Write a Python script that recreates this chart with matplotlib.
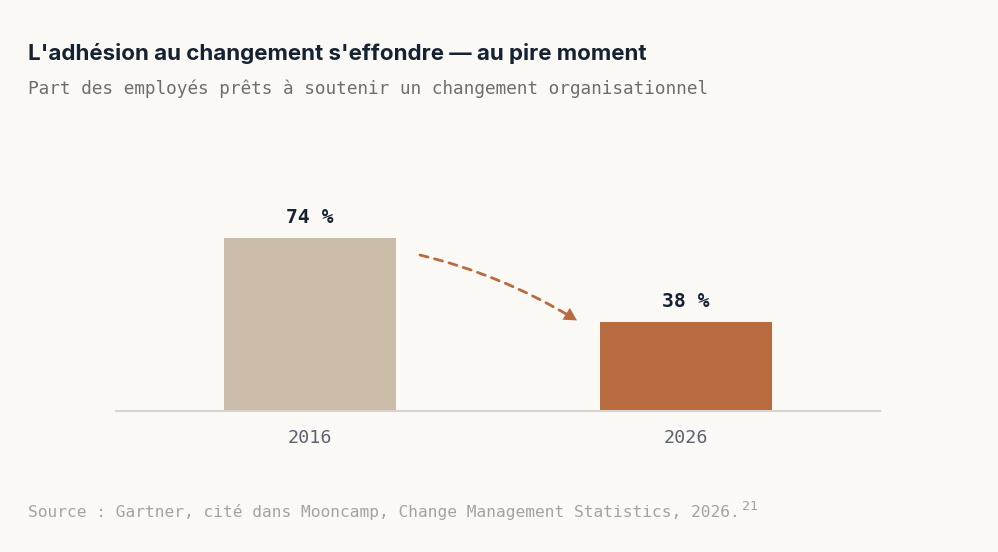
import matplotlib
matplotlib.use("Agg")
import matplotlib.pyplot as plt
from matplotlib.patches import FancyArrowPatch

# Data
categories = ["2016", "2026"]
values = [74, 38]
value_labels = ["74 %", "38 %"]
bar_colors = ["#cbbba9", "#b86b3e"]

title = "L'adhésion au changement s'effondre — au pire moment"
subtitle = "Part des employés prêts à soutenir un changement organisationnel"
source = "Source : Gartner, cité dans Mooncamp, Change Management Statistics, 2026."
source_note = "21"

BG = "#fbf9f6"
MONO = ["DejaVu Sans Mono"]

fig = plt.figure(figsize=(9.98, 5.52), dpi=100, facecolor=BG)
ax = fig.add_axes([0.1162, 0.2554, 0.7655, 0.4230])
ax.set_facecolor(BG)

x = list(range(len(categories)))
bars = ax.bar(x, values, width=0.4575, color=bar_colors, zorder=2)
ax.set_xlim(-0.516, 1.516)
ax.set_ylim(0, 100)

for xi, v, lab in zip(x, values, value_labels):
    ax.annotate(lab, (xi, v), xytext=(0, 8), textcoords="offset points",
                ha="center", va="bottom", fontsize=14.2, fontweight="bold",
                family=MONO, color="#152232")

ax.set_xticks(x)
ax.set_xticklabels(categories, family=MONO, fontsize=13.2, color="#5a6270")
ax.tick_params(axis="x", length=0, pad=13)
ax.set_yticks([])
for s in ["left", "right", "top"]:
    ax.spines[s].set_visible(False)
ax.spines["bottom"].set_color("#d8d3cc")
ax.spines["bottom"].set_linewidth(1.5)

# Dashed curved arrow between bars
start = (x[0] + 0.2926, values[0] - 7.2)
end = (x[1] - 0.29, values[1] + 0.8)
arrow_color = "#b86b3e"
curve = FancyArrowPatch(start, end, connectionstyle="arc3,rad=-0.08",
                        arrowstyle="-", color=arrow_color, lw=2,
                        linestyle=(0, (3, 2.4)), shrinkA=0, shrinkB=5, zorder=3)
ax.add_patch(curve)
head = FancyArrowPatch(start, end, connectionstyle="arc3,rad=-0.08",
                       arrowstyle="-|>,head_length=0.65,head_width=0.36",
                       mutation_scale=14, color=arrow_color, lw=0,
                       shrinkA=0, shrinkB=0, zorder=3)
ax.add_patch(head)

# Texts
fig.text(0.02806, 0.8913, title, fontsize=16.1, fontweight="bold",
         family=["Inter", "DejaVu Sans"], color="#152232", va="baseline")
fig.text(0.02806, 0.8297, subtitle, fontsize=12.8, family=MONO,
         color="#6e6e6e", va="baseline")
src = fig.text(0.02806, 0.0634, source, fontsize=11.7, family=MONO,
               color="#a3a3a3", va="baseline")
fig.canvas.draw()
bb = src.get_window_extent()
fig.text(bb.x1 / fig.bbox.width + 0.002, 0.0634 + 0.013, source_note,
         fontsize=9.5, family=MONO, color="#a3a3a3", va="baseline")

fig.savefig("out.png", dpi=100, facecolor=BG)
